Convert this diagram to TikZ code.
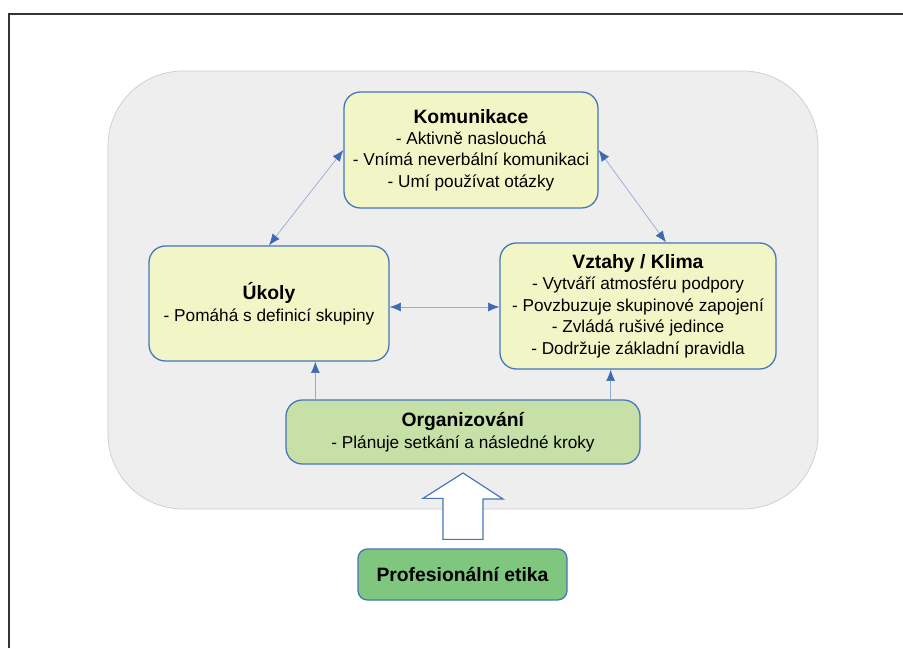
\documentclass[tikz,border=0pt]{standalone}
\usepackage{fontspec}
\setmainfont{Liberation Sans}
\usetikzlibrary{
arrows.meta,
backgrounds,
calc,
positioning
}
\definecolor{bggray}{HTML}{EEEEEE}
\definecolor{bgline}{HTML}{CCCCCC}
\definecolor{boxyellow}{HTML}{F2F5C5}
\definecolor{boxgreen}{HTML}{C6E0A8}
\definecolor{darkgreen}{HTML}{7FC67F}
\definecolor{boxblue}{HTML}{4576BA}
\definecolor{linkblue}{HTML}{92ACD8}
\definecolor{tipblue}{HTML}{3C6BB4}
\newcommand{\ttl}[1]{{\fontsize{16.5}{18.3}\selectfont\textbf{#1}}}
\tikzset{
  area/.style={rounded corners=14pt, draw=boxblue, line width=1.1pt, align=center,
    font=\fontsize{14.7}{18.3}\selectfont, inner sep=0pt},
  yellowbox/.style={area, fill=boxyellow},
  greenbox/.style={area, fill=boxgreen},
  link/.style={draw=linkblue, line width=0.6pt,
    {Latex[length=3.4mm,width=2.7mm,color=tipblue]}-{Latex[length=3.4mm,width=2.7mm,color=tipblue]}},
  uplink/.style={draw=linkblue, line width=0.6pt, -{Latex[length=3.4mm,width=2.7mm,color=tipblue]}}
}
\begin{document}
\begin{tikzpicture}[x=0.03cm,y=-0.03cm]
		\useasboundingbox (0,0) rectangle (903,648);
		% frame
		\draw[line width=1.2pt, black!80] (9,648) -- (9,14) -- (903,14);
		% grey background
		\draw[fill=bggray, draw=bgline, line width=0.6pt, rounded corners=2.25cm] (108,71) rectangle (818,509);
		
		\node[yellowbox, minimum width=7.62cm, minimum height=3.48cm] at (471,150) (kom) {\ttl{Komunikace}\\- Aktivně naslouchá\\- Vnímá neverbální komunikaci\\- Umí používat otázky};
		\node[yellowbox, minimum width=7.2cm, minimum height=3.45cm] at (269,303.5) (ukoly) {\ttl{Úkoly}\\- Pomáhá s definicí skupiny};
		\node[yellowbox, minimum width=8.28cm, minimum height=3.78cm] at (638,306) (vztahy) {\ttl{Vztahy / Klima}\\- Vytváří atmosféru podpory\\- Povzbuzuje skupinové zapojení\\- Zvládá rušivé jedince\\- Dodržuje základní pravidla};
		\node[greenbox, minimum width=10.62cm, minimum height=1.92cm] at (463,432) (org) {\ttl{Organizování}\\- Plánuje setkání a následné kroky};
		\node[area, fill=darkgreen, minimum width=6.27cm, minimum height=1.53cm, rounded corners=8pt] at (462.5,574.5) (prof) {\ttl{Profesionální etika}};
		
		% links
		\draw[link] (kom.west) -- (ukoly.north);
		\draw[link] (kom.east) -- ([xshift=0.84cm]vztahy.north);
		\draw[link] (ukoly.east |- 0,307) -- (vztahy.west |- 0,307);
		\draw[uplink] ([xshift=0.9cm]org.north west) -- ([xshift=0.9cm]org.north west |- ukoly.south);
		\draw[uplink] ([xshift=-0.9cm]org.north east) -- ([xshift=-0.9cm]org.north east |- vztahy.south);
		
		% big arrow
		\draw[fill=white, draw=boxblue, line width=1pt] ($(prof.north)+(-19.5,-9)$) -- ++(0,-41) -- ++(-20,0) -- (463,473) -- (503,499) -- ++(-20,0) -- ($(prof.north)+(20.5,-9)$) -- cycle;
\end{tikzpicture}
\end{document}
